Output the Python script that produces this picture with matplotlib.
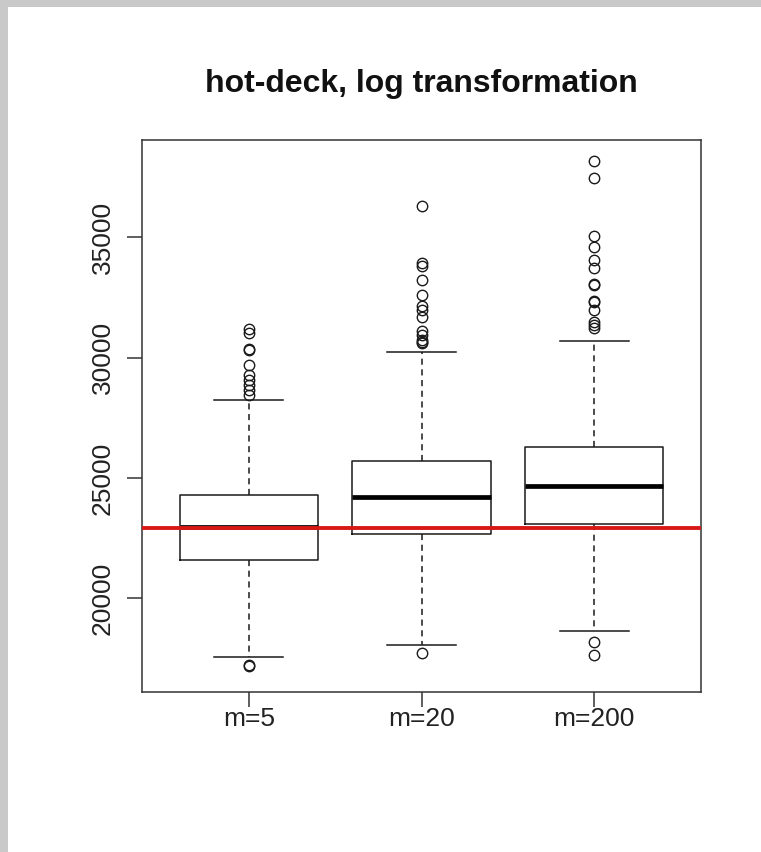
import matplotlib
matplotlib.use("Agg")
import matplotlib.pyplot as plt
from matplotlib.patches import Rectangle

plt.rcParams['font.family'] = ['Liberation Sans', 'DejaVu Sans']

# ---------- data ----------
groups = ["m=5", "m=20", "m=200"]
medians = [22960, 24210, 24670]
q1s = [21590, 22670, 23090]
q3s = [24290, 25710, 26290]
whisk_lo = [17560, 18060, 18640]
whisk_hi = [28240, 30240, 30690]

fliers_m5 = [31190, 31030, 30360, 30330, 29700, 29280, 29070, 28870, 28660, 28450,
             17230, 17180]
fliers_m20 = [36300, 33940, 33810, 33230, 32610, 32150, 31980, 31690, 31110, 30940,
              30740, 30650, 30610, 17730]
fliers_m200 = [38180, 37470, 35060, 34600, 34060, 33730, 33060, 33020, 32360, 32300,
               31980, 31480, 31360, 31230, 18180, 17640]

true_value = 22930

y_ticks = [20000, 25000, 30000, 35000]

# ---------- figure ----------
fig = plt.figure(figsize=(7.61, 8.52), dpi=100, facecolor="#c9c9c9")
fig.add_artist(Rectangle((8 / 761, 0), 1, 1 - 7 / 852, transform=fig.transFigure,
                         facecolor="white", edgecolor="none", zorder=-1))

ax = fig.add_axes([142 / 761, 1 - 692 / 852, 559 / 761, 552 / 852])

stats = []
for i, name in enumerate(groups):
    stats.append(dict(label=name, med=medians[i], q1=q1s[i], q3=q3s[i],
                      whislo=whisk_lo[i], whishi=whisk_hi[i],
                      fliers=[fliers_m5, fliers_m20, fliers_m200][i]))

ax.bxp(stats, positions=[1, 2, 3], widths=0.8, patch_artist=False,
       boxprops=dict(color="#1a1a1a", linewidth=1.1),
       medianprops=dict(color="black", linewidth=3.4),
       whiskerprops=dict(color="#1a1a1a", linewidth=1.1, linestyle=(0, (4, 3))),
       capprops=dict(color="#1a1a1a", linewidth=1.1),
       flierprops=dict(marker="o", markerfacecolor="none", markeredgecolor="#1a1a1a",
                       markersize=7.5, markeredgewidth=1.0))

# reference value
ax.axhline(true_value, color="#d81818", linewidth=2.8, zorder=5)

ax.set_xlim(0.38, 3.62)
ax.set_ylim(16100, 39050)
ax.set_yticks(y_ticks)
ax.set_yticklabels([str(v) for v in y_ticks], rotation=90, va="center")

for s in ax.spines.values():
    s.set_linewidth(1.1)
    s.set_color("#333333")
ax.tick_params(axis="both", length=10.8, width=1.1, color="#333333",
               labelsize=19, labelcolor="#222222")
ax.tick_params(axis="x", pad=0)
ax.tick_params(axis="y", pad=9)

ax.set_title("hot-deck, log transformation", fontsize=23, fontweight="bold",
             pad=34.7, color="#111111")

fig.savefig("out.png", dpi=100, facecolor=fig.get_facecolor())
